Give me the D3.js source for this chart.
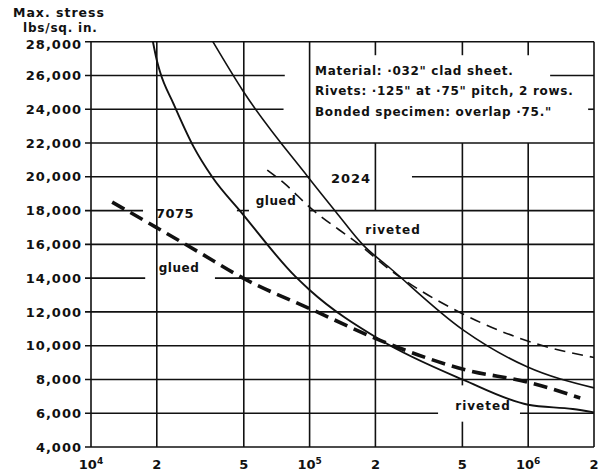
<!DOCTYPE html>
<html>
<head>
<meta charset="utf-8">
<script src="https://cdn.jsdelivr.net/npm/d3@7"></script>
<style>
    body { margin: 0; background: #fff; }
    text { font-family: "DejaVu Sans", sans-serif; font-weight: bold; fill: #111; }
</style>
</head>
<body>
<script>
//Fatigue curves: max stress vs cycles, 7075 and 2024 clad sheet
//riveted (solid) and glued (dashed) lap joints

    var xTicks = [1e4, 2e4, 5e4, 1e5, 2e5, 5e5, 1e6, 2e6];
    var xTickBase = ["10", "2", "5", "10", "2", "5", "10", "2"];
    var xTickExp = ["4", "", "", "5", "", "", "6", ""];

    var yTicks = [4000, 6000, 8000, 10000, 12000, 14000, 16000, 18000, 20000, 22000, 24000, 26000, 28000];
    var yTickLabels = ["4,000", "6,000", "8,000", "10,000", "12,000", "14,000", "16,000",
                       "18,000", "20,000", "22,000", "24,000", "26,000", "28,000"];

    //curves
    var cycles7075Riveted = [1.92e4, 2.0e4, 2.07e4, 2.38e4, 2.94e4, 3.58e4, 4.9e4, 8.6e4, 1e5, 2.1e5, 5e5, 1e6, 1.6e6, 2e6];
    var stress7075Riveted = [28000, 26900, 26200, 24350, 21800, 20000, 17850, 14100, 13300, 10350, 8000, 6500, 6250, 6050];

    var cycles2024Riveted = [3.61e4, 4.96e4, 9.83e4, 1.32e5, 1.755e5, 2.33e5, 5.03e5, 9.88e5, 2e6];
    var stress2024Riveted = [28000, 25080, 19990, 17920, 15970, 14600, 10940, 8750, 7500];

    var cycles2024Glued = [6.4e4, 7.6e4, 1e5, 1.7e5, 2.33e5, 4.9e5, 1.13e6, 2e6];
    var stress2024Glued = [20400, 19650, 18200, 15950, 14500, 11950, 10050, 9300];

    var cycles7075Glued = [1.25e4, 1.96e4, 3.15e4, 4.8e4, 1.04e5, 2.26e5, 5.25e5, 9.9e5, 1.73e6];
    var stress7075Glued = [18500, 17050, 15500, 14100, 12100, 10150, 8550, 7850, 6900];

    //breaks in the printed grid lines [line value, from, to]
    var hGaps = [[26000, 7.7e4, 1.26e6], [24000, 7.6e4, 1.88e6], [20000, 1e5, 2.94e5],
                 [18000, 1.73e4, 4.65e4], [18000, 5.28e4, 1e5], [14000, 1.77e4, 3.69e4],
                 [6000, 3.87e5, 9.17e5]];
    var vGaps = [[2e5, 16000, 18000], [2e5, 22000, 27200], [5e5, 5500, 7650],
                 [5e5, 22000, 27200], [1e6, 22000, 27200]];

    var legendLines = ["Material:  \u00b7032\" clad sheet.",
                       "Rivets: \u00b7125\" at  \u00b775\" pitch, 2 rows.",
                       "Bonded  specimen: overlap \u00b775.\""];

    var width = 602, height = 472;

    var x = d3.scaleLog()
            .domain([1e4, 2e6])
            .range([91, 594]);

    var y = d3.scaleLinear()
            .domain([4000, 28000])
            .range([447, 41.7]);

    var svg = d3.select("body").append("svg")
            .attr("width", width)
            .attr("height", height);

    function pieces(lo, hi, gaps) {
        var out = [], start = lo;
        gaps.sort(function(a, b){ return a[0] - b[0]; });
        gaps.forEach(function(g){
            out.push([start, g[0]]);
            start = g[1];
        });
        out.push([start, hi]);
        return out;
    }

    //grid
    var grid = svg.append("g")
            .attr("stroke", "#111")
            .attr("stroke-width", 1.6)
            .attr("fill", "none");

    yTicks.forEach(function(v){
        var gaps = hGaps.filter(function(g){ return g[0] == v; })
                        .map(function(g){ return [g[1], g[2]]; });
        pieces(1e4, 2e6, gaps).forEach(function(p){
            grid.append("line")
                .attr("x1", p[0] == 1e4 ? x(p[0]) - 6 : x(p[0]))
                .attr("x2", x(p[1]))
                .attr("y1", y(v))
                .attr("y2", y(v));
        });
    });

    xTicks.forEach(function(v){
        var gaps = vGaps.filter(function(g){ return g[0] == v; })
                        .map(function(g){ return [g[1], g[2]]; });
        pieces(4000, 28000, gaps).forEach(function(p){
            grid.append("line")
                .attr("x1", x(v))
                .attr("x2", x(v))
                .attr("y1", y(p[0]))
                .attr("y2", y(p[1]));
        });
    });

    //curves
    var line = d3.line()
            .x(function(d){ return x(d[0]); })
            .y(function(d){ return y(d[1]); })
            .curve(d3.curveMonotoneX);

    var curves = [
        {c: cycles7075Riveted, s: stress7075Riveted, w: 1.9, dash: null},
        {c: cycles2024Riveted, s: stress2024Riveted, w: 1.6, dash: null},
        {c: cycles2024Glued, s: stress2024Glued, w: 1.6, dash: "11,7"},
        {c: cycles7075Glued, s: stress7075Glued, w: 3.6, dash: "14,7"}
    ];

    svg.selectAll(".curve")
        .data(curves)
        .enter().append("path")
        .attr("class", "curve")
        .attr("fill", "none")
        .attr("stroke", "#111")
        .attr("stroke-width", function(d){ return d.w; })
        .attr("stroke-dasharray", function(d){ return d.dash; })
        .attr("d", function(d){
            return line(d.c.map(function(c, i){ return [c, d.s[i]]; }));
        });

    //y tick labels
    svg.selectAll(".ylab")
        .data(yTicks)
        .enter().append("text")
        .attr("class", "ylab")
        .attr("x", 82)
        .attr("y", function(d){ return y(d) + (d == 28000 ? 3 : 0); })
        .attr("dy", ".36em")
        .attr("text-anchor", "end")
        .attr("font-size", 13)
        .attr("letter-spacing", 1)
        .text(function(d, i){ return yTickLabels[i]; });

    //x tick labels
    var xl = svg.selectAll(".xlab")
        .data(xTicks)
        .enter().append("text")
        .attr("class", "xlab")
        .attr("x", function(d){ return x(d); })
        .attr("y", 469)
        .attr("text-anchor", "middle")
        .attr("font-size", 13);
    xl.append("tspan")
        .text(function(d, i){ return xTickBase[i]; });
    xl.append("tspan")
        .attr("dy", -5)
        .attr("font-size", 9)
        .text(function(d, i){ return xTickExp[i]; });

    //axis title
    svg.append("text")
        .attr("x", 13)
        .attr("y", 17)
        .attr("font-size", 12.5)
        .attr("letter-spacing", 1)
        .text("Max. stress");
    svg.append("text")
        .attr("x", 23)
        .attr("y", 32)
        .attr("font-size", 12)
        .attr("letter-spacing", 0.8)
        .text("lbs/sq. in.");

    //legend box text
    svg.selectAll(".leg")
        .data(legendLines)
        .enter().append("text")
        .attr("class", "leg")
        .attr("x", 315)
        .attr("y", function(d, i){ return [75, 95, 116][i]; })
        .attr("font-size", 12)
        .attr("letter-spacing", 0.7)
        .text(function(d){ return d; });

    //curve labels
    function label(t, cx, by, size, sp) {
        svg.append("text")
            .attr("x", cx)
            .attr("y", by)
            .attr("text-anchor", "middle")
            .attr("font-size", size)
            .attr("letter-spacing", sp)
            .text(t);
    }
    label("7075", 175, 218, 13, 0.5);
    label("glued", 179, 272, 12, 0.5);
    label("glued", 276, 205, 12, 0.5);
    label("2024", 351, 183, 13, 1);
    label("riveted", 393, 234, 12, 1);
    label("riveted", 483, 410, 12, 1);
</script>
</body>
</html>
